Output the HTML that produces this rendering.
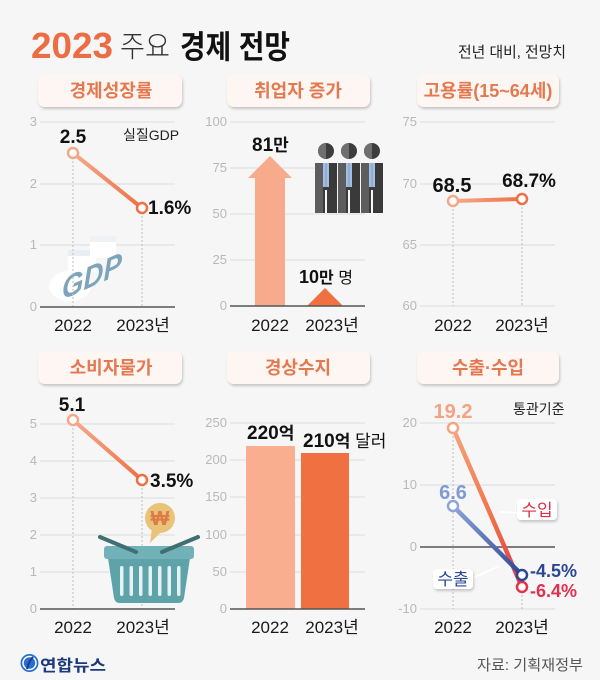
<!DOCTYPE html>
<html><head><meta charset="utf-8">
<style>
html,body{margin:0;padding:0;background:#f6f6f6;}
svg{display:block;}
text{font-family:"Liberation Sans","Noto Sans CJK KR",sans-serif;}
.ax{font-size:13px;fill:#b8b8b8;text-anchor:end;}
.grid{stroke:#dcdcdc;stroke-width:1;}
.base{stroke:#555;stroke-width:1.6;}
.dot{stroke:#bdbdbd;stroke-width:1;stroke-dasharray:2,2;}
.xl{font-size:17px;fill:#1a1a1a;text-anchor:middle;}
.val{font-size:19px;font-weight:bold;fill:#111;}
.pt{font-size:18px;fill:#e4784f;font-weight:bold;text-anchor:middle;}
</style></head><body>
<svg width="600" height="680" viewBox="0 0 600 680" xmlns="http://www.w3.org/2000/svg">
<defs>
<filter id="sh" x="-10%" y="-20%" width="130%" height="170%"><feDropShadow dx="1" dy="2" stdDeviation="1.4" flood-color="#000" flood-opacity="0.2"/></filter>
<linearGradient id="g1" gradientUnits="userSpaceOnUse" x1="73" y1="153" x2="142" y2="208"><stop offset="0" stop-color="#f6aa8b"/><stop offset="1" stop-color="#ee7044"/></linearGradient>
<linearGradient id="g3" gradientUnits="userSpaceOnUse" x1="453" y1="201" x2="522" y2="199"><stop offset="0" stop-color="#f6aa8b"/><stop offset="1" stop-color="#ee7044"/></linearGradient>
<linearGradient id="g4" gradientUnits="userSpaceOnUse" x1="73" y1="420" x2="142" y2="480"><stop offset="0" stop-color="#f6aa8b"/><stop offset="1" stop-color="#ee7044"/></linearGradient>
<linearGradient id="gi" gradientUnits="userSpaceOnUse" x1="453" y1="428" x2="522" y2="587"><stop offset="0" stop-color="#f6a47f"/><stop offset="0.6" stop-color="#ef6f45"/><stop offset="1" stop-color="#e03548"/></linearGradient>
<linearGradient id="ge" gradientUnits="userSpaceOnUse" x1="453" y1="506" x2="522" y2="575"><stop offset="0" stop-color="#8da5d8"/><stop offset="1" stop-color="#2b4695"/></linearGradient>
</defs>

<!-- Title -->
<text x="31" y="58" font-size="36" font-weight="bold" fill="#ec6d44" textLength="82" lengthAdjust="spacingAndGlyphs">2023</text>
<text x="120" y="57" font-size="30" font-weight="300" fill="#333" textLength="50" lengthAdjust="spacingAndGlyphs">주요</text>
<text x="180" y="58" font-size="32" font-weight="bold" fill="#111" textLength="110" lengthAdjust="spacingAndGlyphs">경제 전망</text>
<text x="458" y="57" font-size="15" fill="#222" textLength="108" lengthAdjust="spacingAndGlyphs">전년 대비, 전망치</text>

<!-- Pills -->
<g filter="url(#sh)" fill="#fdf6f2">
<rect x="38" y="74" width="144" height="33" rx="7"/>
<rect x="227" y="74" width="143" height="33" rx="7"/>
<rect x="417" y="74" width="142" height="33" rx="7"/>
<rect x="38" y="351" width="144" height="33" rx="7"/>
<rect x="227" y="351" width="143" height="33" rx="7"/>
<rect x="417" y="351" width="142" height="33" rx="7"/>
</g>
<text class="pt" x="111" y="97">경제성장률</text>
<text class="pt" x="298" y="97">취업자 증가</text>
<text class="pt" x="488" y="97">고용률(15~64세)</text>
<text class="pt" x="111" y="374">소비자물가</text>
<text class="pt" x="298" y="374">경상수지</text>
<text class="pt" x="488" y="374">수출·수입</text>

<!-- Panel 1 -->
<line class="grid" x1="40" y1="122" x2="175" y2="122"/>
<line class="grid" x1="40" y1="184" x2="175" y2="184"/>
<line class="grid" x1="40" y1="245" x2="175" y2="245"/>
<text class="ax" x="37" y="126">3</text>
<text class="ax" x="37" y="188">2</text>
<text class="ax" x="37" y="249">1</text>
<text class="ax" x="37" y="311">0</text>
<!-- GDP graphic -->
<ellipse cx="70" cy="286" rx="21" ry="15" fill="#ffffff"/>
<rect x="68" y="250" width="28" height="22" fill="#ffffff"/>
<rect x="68" y="250" width="28" height="6" fill="#e9eef2"/>
<rect x="90" y="236" width="26" height="22" fill="#ffffff"/>
<rect x="90" y="236" width="26" height="6" fill="#eef2f5"/>
<text transform="translate(62,300) skewY(-24)" font-size="31" font-weight="bold" font-style="italic" fill="#7ea4ba" textLength="60" lengthAdjust="spacingAndGlyphs">GDP</text>
<line class="dot" x1="73" y1="153" x2="73" y2="307"/>
<line class="dot" x1="142" y1="208" x2="142" y2="307"/>
<line class="base" x1="40" y1="307" x2="175" y2="307"/>
<line x1="73" y1="153" x2="142" y2="208" stroke="url(#g1)" stroke-width="4"/>
<circle cx="73" cy="153" r="5" fill="#fff" stroke="#f5a789" stroke-width="2.5"/>
<circle cx="142" cy="208" r="5" fill="#fff" stroke="#ee7044" stroke-width="2.5"/>
<text class="val" x="73" y="143" text-anchor="middle">2.5</text>
<text x="123" y="140" font-size="14" fill="#222">실질GDP</text>
<text class="val" x="148" y="214">1.6%</text>
<text class="xl" x="73" y="331">2022</text>
<text class="xl" x="143" y="331">2023년</text>

<!-- Panel 2 -->
<line class="grid" x1="230" y1="122" x2="365" y2="122"/>
<line class="grid" x1="230" y1="168" x2="365" y2="168"/>
<line class="grid" x1="230" y1="214" x2="365" y2="214"/>
<line class="grid" x1="230" y1="260" x2="365" y2="260"/>
<text class="ax" x="227" y="126">100</text>
<text class="ax" x="227" y="172">75</text>
<text class="ax" x="227" y="218">50</text>
<text class="ax" x="227" y="264">25</text>
<text class="ax" x="227" y="310">0</text>
<path d="M255 306 L255 178 L248 178 L270 156 L292 178 L285 178 L285 306 Z" fill="#f8ab8c"/>
<path d="M307 306 L325 288 L343 306 Z" fill="#f07040"/>
<line class="base" x1="230" y1="306" x2="365" y2="306"/>
<text x="252" y="151" font-size="19" font-weight="bold" fill="#111">81<tspan font-size="17">만</tspan></text>
<text x="299" y="283" font-size="18" font-weight="bold" fill="#111">10<tspan font-size="16">만</tspan><tspan font-size="16" font-weight="normal"> 명</tspan></text>
<!-- People -->
<g>
<g id="pp">
<circle cx="326" cy="151" r="8" fill="#3d3d3d"/>
<path d="M326 143 A8 8 0 0 0 326 159 Z" fill="#6f6f6f"/>
<rect x="315" y="163" width="22" height="50" fill="#3a3a3a"/>
<rect x="315" y="163" width="8" height="50" fill="#5d5d5d"/>
<rect x="323" y="163" width="6" height="24" fill="#a3bde3"/>
<rect x="325.5" y="163" width="1" height="24" fill="#7c9ccf"/>
<rect x="325" y="190" width="2" height="23" fill="#f6f6f6"/>
</g>
<use href="#pp" x="23"/>
<use href="#pp" x="46"/>
</g>
<text class="xl" x="270" y="331">2022</text>
<text class="xl" x="332" y="331">2023년</text>

<!-- Panel 3 -->
<line class="grid" x1="420" y1="122" x2="555" y2="122"/>
<line class="grid" x1="420" y1="184" x2="555" y2="184"/>
<line class="grid" x1="420" y1="245" x2="555" y2="245"/>
<line class="grid" x1="420" y1="306" x2="555" y2="306"/>
<text class="ax" x="417" y="126">75</text>
<text class="ax" x="417" y="188">70</text>
<text class="ax" x="417" y="249">65</text>
<text class="ax" x="417" y="310">60</text>
<line class="dot" x1="453" y1="201" x2="453" y2="306"/>
<line class="dot" x1="522" y1="199" x2="522" y2="306"/>
<text x="452" y="192" font-size="20" font-weight="bold" fill="#111" text-anchor="middle">68.5</text>
<text x="529" y="187" font-size="19" font-weight="bold" fill="#111" text-anchor="middle">68.7%</text>
<line x1="453" y1="201" x2="522" y2="199" stroke="url(#g3)" stroke-width="4"/>
<circle cx="453" cy="201" r="5" fill="#fff" stroke="#f5a789" stroke-width="2.5"/>
<circle cx="522" cy="199" r="5" fill="#fff" stroke="#ee7044" stroke-width="2.5"/>
<text class="xl" x="453" y="331">2022</text>
<text class="xl" x="522" y="331">2023년</text>

<!-- Panel 4 -->
<line class="grid" x1="40" y1="424" x2="175" y2="424"/>
<line class="grid" x1="40" y1="461" x2="175" y2="461"/>
<line class="grid" x1="40" y1="498" x2="175" y2="498"/>
<line class="grid" x1="40" y1="535" x2="175" y2="535"/>
<line class="grid" x1="40" y1="572" x2="175" y2="572"/>
<text class="ax" x="37" y="428">5</text>
<text class="ax" x="37" y="465">4</text>
<text class="ax" x="37" y="502">3</text>
<text class="ax" x="37" y="539">2</text>
<text class="ax" x="37" y="576">1</text>
<text class="ax" x="37" y="613">0</text>
<line class="dot" x1="73" y1="420" x2="73" y2="609"/>
<line class="dot" x1="142" y1="480" x2="142" y2="609"/>
<line class="base" x1="40" y1="609" x2="175" y2="609"/>
<line x1="73" y1="420" x2="142" y2="480" stroke="url(#g4)" stroke-width="4"/>
<circle cx="73" cy="420" r="5" fill="#fff" stroke="#f5a789" stroke-width="2.5"/>
<circle cx="142" cy="480" r="5" fill="#fff" stroke="#ee7044" stroke-width="2.5"/>
<text class="val" x="72" y="411" text-anchor="middle">5.1</text>
<text class="val" x="150" y="487">3.5%</text>
<!-- coin bubble -->
<path d="M152 528 L150 543 L162 531 Z" fill="#eac37a"/>
<circle cx="160" cy="518" r="15" fill="#eac37a"/>
<text x="160" y="525" font-size="20" font-weight="bold" fill="#e07a45" text-anchor="middle">₩</text>
<!-- basket -->
<path d="M108 558 L190 558 L184 598 Q183 603 178 603 L120 603 Q115 603 114 598 Z" fill="#5ea3aa"/>
<rect x="104" y="546" width="90" height="13" rx="3" fill="#70b2b8"/>
<g fill="#e6f2f2">
<rect x="120" y="566" width="3.5" height="30" rx="1.7"/>
<rect x="129.5" y="566" width="3.5" height="30" rx="1.7"/>
<rect x="139" y="566" width="3.5" height="30" rx="1.7"/>
<rect x="148.5" y="566" width="3.5" height="30" rx="1.7"/>
<rect x="158" y="566" width="3.5" height="30" rx="1.7"/>
<rect x="167.5" y="566" width="3.5" height="30" rx="1.7"/>
<rect x="177" y="566" width="3.5" height="30" rx="1.7"/>
</g>
<line x1="100" y1="537" x2="136" y2="552" stroke="#3f6f73" stroke-width="4" stroke-linecap="round"/>
<line x1="162" y1="552" x2="198" y2="537" stroke="#3f6f73" stroke-width="4" stroke-linecap="round"/>
<text class="xl" x="73" y="633">2022</text>
<text class="xl" x="143" y="633">2023년</text>

<!-- Panel 5 -->
<line class="grid" x1="230" y1="423" x2="365" y2="423"/>
<line class="grid" x1="230" y1="460" x2="365" y2="460"/>
<line class="grid" x1="230" y1="497" x2="365" y2="497"/>
<line class="grid" x1="230" y1="535" x2="365" y2="535"/>
<line class="grid" x1="230" y1="572" x2="365" y2="572"/>
<text class="ax" x="227" y="427">250</text>
<text class="ax" x="227" y="464">200</text>
<text class="ax" x="227" y="501">150</text>
<text class="ax" x="227" y="539">100</text>
<text class="ax" x="227" y="576">50</text>
<text class="ax" x="227" y="613">0</text>
<rect x="246" y="446" width="49" height="163" fill="#f8ae8f"/>
<rect x="301" y="453" width="48" height="156" fill="#f07042"/>
<line class="base" x1="230" y1="609" x2="365" y2="609"/>
<text x="247" y="439" font-size="19" font-weight="bold" fill="#111">220<tspan font-size="17">억</tspan></text>
<text x="303" y="447" font-size="19" font-weight="bold" fill="#111">210<tspan font-size="17">억</tspan><tspan font-size="17" font-weight="normal"> 달러</tspan></text>
<text class="xl" x="270" y="633">2022</text>
<text class="xl" x="332" y="633">2023년</text>

<!-- Panel 6 -->
<line class="grid" x1="420" y1="423" x2="555" y2="423"/>
<line class="grid" x1="420" y1="485" x2="555" y2="485"/>
<line class="grid" x1="420" y1="609" x2="555" y2="609"/>
<text class="ax" x="417" y="427">20</text>
<text class="ax" x="417" y="489">10</text>
<text class="ax" x="417" y="551">0</text>
<text class="ax" x="417" y="613">-10</text>
<line class="dot" x1="453" y1="428" x2="453" y2="609"/>
<line class="dot" x1="522" y1="575" x2="522" y2="609"/>
<line class="base" x1="420" y1="547" x2="555" y2="547"/>
<text x="513" y="414" font-size="14" fill="#222">통관기준</text>
<text x="453" y="418" font-size="20" font-weight="bold" fill="#f5a27f" text-anchor="middle">19.2</text>
<text x="453" y="499" font-size="20" font-weight="bold" fill="#7f9bd5" text-anchor="middle">6.6</text>
<line x1="453" y1="428" x2="522" y2="587" stroke="url(#gi)" stroke-width="4.5"/>
<line x1="453" y1="506" x2="522" y2="575" stroke="url(#ge)" stroke-width="4.5"/>
<circle cx="453" cy="428" r="5" fill="#fff" stroke="#f6a47f" stroke-width="2.5"/>
<circle cx="453" cy="506" r="5" fill="#fff" stroke="#8da5d8" stroke-width="2.5"/>
<circle cx="522" cy="587" r="5" fill="#fff" stroke="#e03548" stroke-width="2.5"/>
<circle cx="522" cy="575" r="5" fill="#fff" stroke="#2b4695" stroke-width="2.5"/>
<text x="530" y="577" font-size="18" font-weight="bold" fill="#2b4695">-4.5%</text>
<text x="530" y="597" font-size="18" font-weight="bold" fill="#df3050">-6.4%</text>
<!-- labels boxes -->
<line x1="500" y1="512" x2="518" y2="513" stroke="#fff" stroke-width="2"/>
<rect x="517" y="499" width="40" height="21" rx="4" fill="#fff" filter="url(#sh)"/>
<text x="537" y="516" font-size="17" fill="#d8304a" text-anchor="middle">수입</text>
<line x1="472" y1="578" x2="500" y2="566" stroke="#fff" stroke-width="2"/>
<rect x="433" y="569" width="40" height="20" rx="4" fill="#fff" filter="url(#sh)"/>
<text x="453" y="585" font-size="17" fill="#2b4695" text-anchor="middle">수출</text>
<text class="xl" x="453" y="633">2022</text>
<text class="xl" x="522" y="633">2023년</text>

<!-- Footer -->
<circle cx="29.5" cy="663" r="9" fill="#2a6fd0"/>
<circle cx="29.5" cy="663" r="6.5" fill="none" stroke="#fff" stroke-width="1.5"/>
<path d="M27 669 Q29 661 33 657" stroke="#1b3f86" stroke-width="2" fill="none"/>
<text x="40" y="671" font-size="16" font-weight="bold" fill="#1b3a7c" textLength="66" lengthAdjust="spacingAndGlyphs">연합뉴스</text>
<text x="477" y="670" font-size="15" fill="#555" textLength="106" lengthAdjust="spacingAndGlyphs">자료: 기획재정부</text>
</svg>
</body></html>
